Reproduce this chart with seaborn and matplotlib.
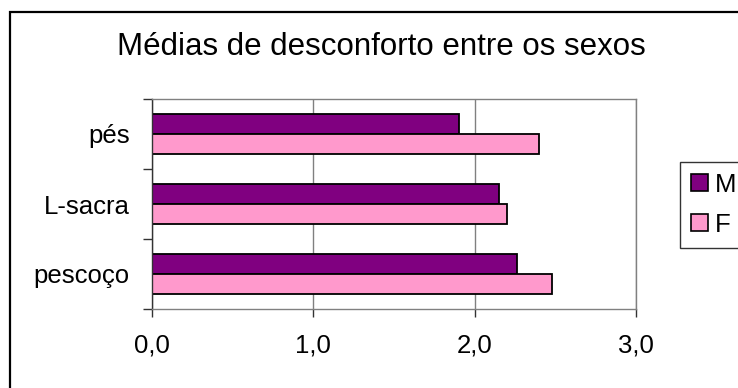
import pandas as pd
import numpy as np
import matplotlib.pyplot as plt
import matplotlib.patches as mpatches
import seaborn as sns

# Data
regioes = ["pés", "L-sacra", "pescoço"]
media_m = [1.90, 2.15, 2.26]
media_f = [2.40, 2.20, 2.48]
sexos = ["M", "F"]
x_ticks = [0, 1, 2, 3]
x_labels = ["0,0", "1,0", "2,0", "3,0"]

PALETTE = {"M": "#800080", "F": "#FF99CC"}

df = pd.DataFrame({
    "regiao": regioes * 2,
    "sexo": ["M"] * len(regioes) + ["F"] * len(regioes),
    "media": media_m + media_f,
})

sns.set_style("white")
plt.rcParams["font.family"] = ["Liberation Sans", "DejaVu Sans"]
plt.rcParams["text.color"] = "black"
plt.rcParams["xtick.labelcolor"] = "black"
plt.rcParams["ytick.labelcolor"] = "black"

fig = plt.figure(figsize=(7.38, 3.88), dpi=100)
ax = fig.add_axes([152 / 738, 1 - 309 / 388, (636 - 152) / 738, (309 - 99) / 388])

sns.barplot(
    data=df, y="regiao", x="media", hue="sexo", order=regioes, hue_order=sexos,
    palette=PALETTE, orient="h", width=0.575, edgecolor="black", linewidth=1.3,
    saturation=1, legend=False, ax=ax,
)

ax.set_xlim(0, 3)
ax.set_ylim(len(regioes) - 0.5, -0.5)
ax.set_xticks(x_ticks)
ax.set_xticklabels(x_labels, fontsize=18.5)
ax.set_yticks(np.arange(-0.5, len(regioes), 1.0))
ax.set_yticklabels([])
ax.set_yticks(range(len(regioes)), minor=True)
ax.set_yticklabels(regioes, minor=True, fontsize=18.5)
ax.tick_params(axis="y", which="minor", length=0, pad=16, labelcolor="black")
ax.tick_params(axis="y", which="major", length=6.5, width=1, color="#333333", direction="out", left=True)
ax.tick_params(axis="x", length=5.5, width=1, color="#333333", direction="out", pad=12, bottom=True,
               labelcolor="black")
ax.set_xlabel("")
ax.set_ylabel("")
ax.xaxis.grid(True, color="#808080", linewidth=1)
ax.set_axisbelow(True)
for side in ["top", "right", "bottom"]:
    ax.spines[side].set_color("#808080")
    ax.spines[side].set_linewidth(1)
ax.spines["left"].set_color("#333333")
ax.spines["left"].set_linewidth(1)

fig.text(381.5 / 738, 1 - 55 / 388, "Médias de desconforto entre os sexos",
         ha="center", va="baseline", fontsize=22.5, color="black")

# Outer chart frame
frame = mpatches.Rectangle((10 / 738, -0.05), 1.0, 1 - 12 / 388 + 0.05, transform=fig.transFigure,
                           fill=False, edgecolor="black", linewidth=1.6, clip_on=False)
fig.patches.append(frame)

handles = [mpatches.Patch(facecolor=PALETTE[s], edgecolor="black", linewidth=1.2, label=s) for s in sexos]
leg = fig.legend(handles=handles, loc="upper left", bbox_to_anchor=(680 / 738, 1 - 162 / 388),
                 fontsize=18.5, frameon=True, fancybox=False, handlelength=0.66, handleheight=0.66,
                 handletextpad=0.27, labelspacing=0.62, borderpad=0.42, borderaxespad=0,
                 labelcolor="black")
leg.get_frame().set_edgecolor("black")
leg.get_frame().set_linewidth(1)

fig.savefig("out.png", dpi=100)
